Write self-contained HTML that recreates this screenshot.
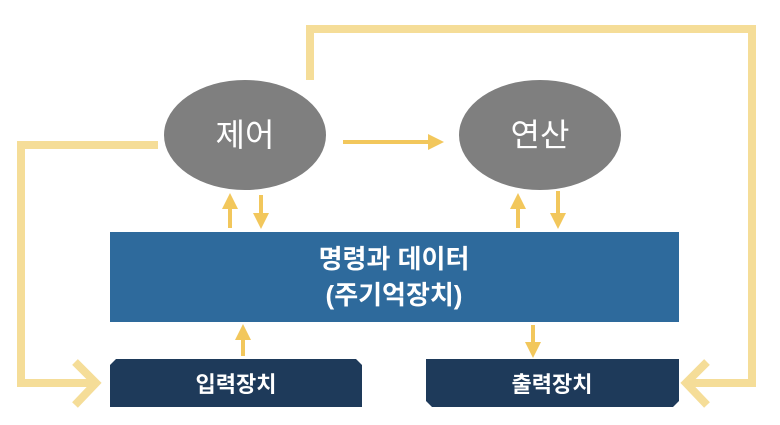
<!DOCTYPE html>
<html><head><meta charset="utf-8"><style>
html,body{margin:0;padding:0;background:#fff;width:780px;height:425px;overflow:hidden}
svg text{font-family:"Liberation Sans","Noto Sans CJK KR","NanumGothic",sans-serif}
</style></head><body>
<svg width="780" height="425" viewBox="0 0 780 425" xmlns="http://www.w3.org/2000/svg">
<defs>
<marker id="ah" markerWidth="4" markerHeight="4" refX="2.5" refY="2" orient="auto" markerUnits="strokeWidth">
<path d="M0,0 L4,2 L0,4 z" fill="#f2c75c"/>
</marker>
</defs>
<!-- big loops -->
<g fill="none" stroke="#f5dd98" stroke-width="8" stroke-linejoin="miter">
<polyline points="158,145 21,145 21,383 92,383"/>
<polyline points="75,362 96,383 75,405"/>
<polyline points="310,80 310,29 752,29 752,383 690,383"/>
<polyline points="707,362 686,383 707,405"/>
</g>
<!-- ellipses -->
<ellipse cx="245" cy="135" rx="81" ry="55" fill="#7f7f7f"/>
<ellipse cx="540" cy="135" rx="81" ry="55" fill="#7f7f7f"/>
<text x="245" y="146" font-size="32" fill="#fff" text-anchor="middle">제어</text>
<text x="540" y="146" font-size="32" fill="#fff" text-anchor="middle">연산</text>
<!-- small arrows -->
<g stroke="#f2c75c" stroke-width="4" marker-end="url(#ah)">
<line x1="343" y1="142" x2="438" y2="142"/>
<line x1="230" y1="228" x2="230" y2="199"/>
<line x1="261" y1="195" x2="261" y2="223"/>
<line x1="518" y1="228" x2="518" y2="199"/>
<line x1="558" y1="191" x2="558" y2="223"/>
<line x1="243" y1="356" x2="243" y2="330"/>
<line x1="533" y1="325" x2="533" y2="352"/>
</g>
<!-- main block -->
<rect x="110" y="232" width="569" height="90" fill="#2e6a9c"/>
<text x="394" y="268" font-size="26" font-weight="bold" fill="#fff" text-anchor="middle">명령과 데이터</text>
<text x="394" y="304" font-size="26" font-weight="bold" fill="#fff" text-anchor="middle">(주기억장치)</text>
<!-- IO boxes -->
<polygon points="116,359 356,359 362,365 362,407 110,407 110,365" fill="#1e3a5a"/>
<polygon points="426,359 679,359 679,401 673,407 432,407 426,401" fill="#1e3a5a"/>
<text x="236" y="392" font-size="22" font-weight="bold" fill="#fff" text-anchor="middle">입력장치</text>
<text x="552" y="392" font-size="22" font-weight="bold" fill="#fff" text-anchor="middle">출력장치</text>
</svg>
</body></html>
